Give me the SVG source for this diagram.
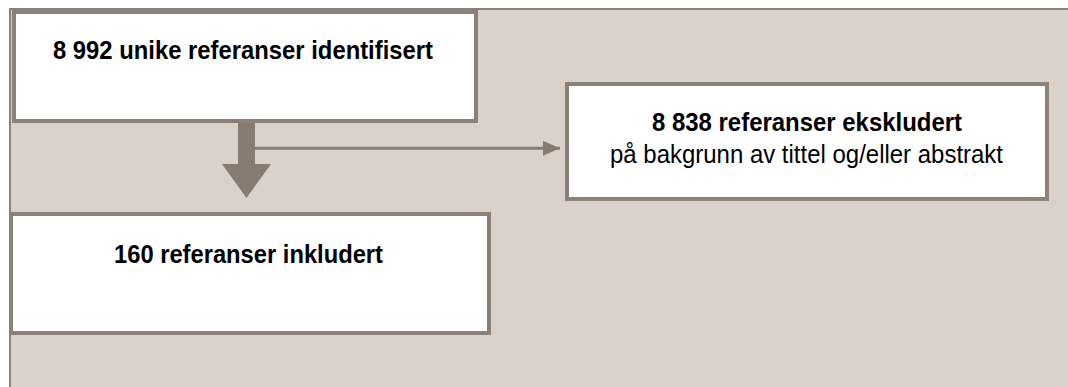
<svg xmlns="http://www.w3.org/2000/svg" width="1068" height="387" viewBox="0 0 1068 387">
  <style>
    .panel { fill: #d9d1ca; stroke: #8c8179; stroke-width: 2; }
    .box { fill: #ffffff; stroke: #8c8179; stroke-width: 4; }
    .arrow { fill: #877b72; }
    .line { stroke: #877b72; stroke-width: 3; fill: none; }
    .t { font-family: "Liberation Sans", Arial, sans-serif; font-size: 25.5px; fill: #000000; }
    .b { font-weight: bold; font-size: 26.5px; }
  </style>
  <defs>
    <marker id="head" markerUnits="userSpaceOnUse" markerWidth="18" markerHeight="16" refX="17" refY="7.5" orient="auto">
      <polygon points="0,0 17,7.5 0,15" fill="#877b72"/>
    </marker>
  </defs>
  <rect x="0" y="0" width="1068" height="387" fill="#ffffff"/>
  <rect class="panel" x="10" y="9" width="1070" height="390"/>

  <g id="connectors">
    <g id="down-arrow">
      <rect class="arrow" x="238" y="121" width="17" height="44"/>
      <polygon class="arrow" points="222,164 271,164 246.5,198"/>
    </g>
    <line class="line" x1="255" y1="148.3" x2="560" y2="148.3" marker-end="url(#head)"/>
  </g>

  <g id="node-identified">
    <rect class="box" x="14" y="12" width="462" height="109"/>
    <text class="t b" x="53" y="59" textLength="380" lengthAdjust="spacingAndGlyphs">8 992 unike referanser identifisert</text>
  </g>

  <g id="node-excluded">
    <rect class="box" x="567" y="84" width="480" height="115"/>
    <text class="t b" x="652" y="131" textLength="310" lengthAdjust="spacingAndGlyphs">8 838 referanser ekskludert</text>
    <text class="t" x="610" y="163" textLength="393" lengthAdjust="spacingAndGlyphs">på bakgrunn av tittel og/eller abstrakt</text>
  </g>

  <g id="node-included">
    <rect class="box" x="11" y="214" width="478" height="119"/>
    <text class="t b" x="114" y="262.5" textLength="269" lengthAdjust="spacingAndGlyphs">160 referanser inkludert</text>
  </g>
</svg>
